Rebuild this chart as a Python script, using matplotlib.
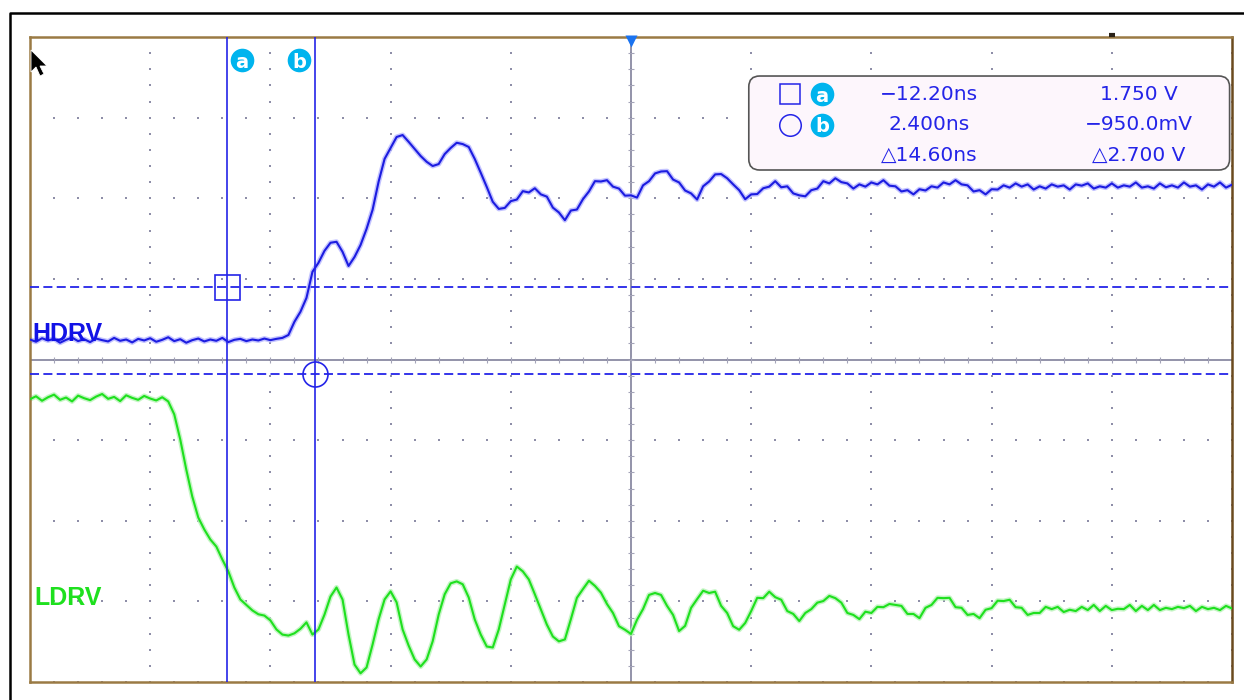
import numpy as np
import matplotlib
matplotlib.use('Agg')
import matplotlib.pyplot as plt
import matplotlib.transforms as mtransforms
from matplotlib.patches import FancyBboxPatch, Polygon
from matplotlib.lines import Line2D


# record: 1 ns per sample, starting 45 ns before the left screen edge origin
T_START = -45.0
T_STEP = 1.0

# high-side gate drive, volts
HDRV = [
    0.12, 0.05, 0.16, 0.09, 0.14, 0.02, 0.11, 0.18, 0.07, 0.13,
    0.04, 0.15, 0.10, 0.06, 0.17, 0.08, 0.12, 0.03, 0.14, 0.09,
    0.16, 0.05, 0.11, 0.19, 0.07, 0.13, 0.02, 0.10, 0.15, 0.06,
    0.12, 0.08, 0.17, 0.04, 0.11, 0.14, 0.07, 0.12, 0.09, 0.15,
    0.10, 0.14, 0.17, 0.26, 0.67, 0.98, 1.41, 2.22, 2.50, 2.87,
    3.12, 3.15, 2.84, 2.40, 2.68, 3.05, 3.55, 4.14, 5.01, 5.72,
    6.06, 6.40, 6.46, 6.25, 6.03, 5.81, 5.63, 5.50, 5.56, 5.87,
    6.06, 6.22, 6.18, 6.09, 5.72, 5.29, 4.85, 4.39, 4.17, 4.20,
    4.41, 4.46, 4.72, 4.68, 4.81, 4.62, 4.55, 4.21, 4.06, 3.82,
    4.12, 4.15, 4.47, 4.71, 5.03, 5.02, 5.06, 4.86, 4.80, 4.58,
    4.59, 4.52, 4.90, 5.03, 5.27, 5.33, 5.34, 5.08, 4.99, 4.74,
    4.65, 4.46, 4.87, 5.02, 5.24, 5.25, 5.12, 4.93, 4.75, 4.47,
    4.62, 4.63, 4.81, 4.86, 5.03, 4.84, 4.87, 4.65, 4.59, 4.56,
    4.75, 4.80, 5.03, 4.96, 5.12, 5.00, 4.96, 4.80, 4.93, 4.86,
    4.99, 4.93, 5.06, 4.89, 4.87, 4.71, 4.75, 4.62, 4.78, 4.74,
    4.87, 4.83, 4.99, 4.93, 5.06, 4.93, 4.90, 4.71, 4.75, 4.62,
    4.78, 4.77, 4.90, 4.83, 4.96, 4.86, 4.93, 4.77, 4.87, 4.80,
    4.93, 4.86, 4.90, 4.77, 4.93, 4.89, 4.96, 4.80, 4.87, 4.83,
    4.96, 4.83, 4.90, 4.86, 4.99, 4.83, 4.87, 4.80, 4.96, 4.84,
    4.90, 4.83, 4.99, 4.86, 4.90, 4.77, 4.93, 4.86, 4.99, 4.83,
    4.92,
]

# low-side gate drive, volts (own channel ground)
LDRV = [
    6.52, 6.61, 6.47, 6.58, 6.66, 6.50, 6.57, 6.45, 6.63, 6.55,
    6.49, 6.60, 6.68, 6.53, 6.59, 6.46, 6.64, 6.56, 6.50, 6.62,
    6.54, 6.48, 6.58, 6.45, 6.05, 5.27, 4.34, 3.50, 2.85, 2.48,
    2.17, 1.95, 1.55, 1.18, 0.68, 0.31, 0.14, -0.03, -0.15, -0.19,
    -0.34, -0.62, -0.78, -0.81, -0.74, -0.60, -0.40, -0.78, -0.62, -0.16,
    0.40, 0.68, 0.31, -0.78, -1.71, -1.98, -1.80, -1.09, -0.31, 0.31,
    0.56, 0.22, -0.62, -1.12, -1.55, -1.77, -1.55, -0.99, -0.16, 0.47,
    0.81, 0.87, 0.78, 0.37, -0.31, -0.78, -1.15, -1.18, -0.62, 0.16,
    0.93, 1.33, 1.18, 0.93, 0.47, 0.00, -0.47, -0.84, -0.99, -0.93,
    -0.30, 0.36, 0.63, 0.89, 0.73, 0.52, 0.17, -0.11, -0.52, -0.63,
    -0.76, -0.32, 0.01, 0.45, 0.51, 0.45, 0.11, -0.17, -0.67, -0.51,
    0.05, 0.32, 0.58, 0.51, 0.55, 0.11, -0.11, -0.52, -0.63, -0.42,
    -0.05, 0.36, 0.35, 0.55, 0.38, 0.30, -0.05, -0.14, -0.36, -0.11,
    0.01, 0.21, 0.26, 0.42, 0.35, 0.21, -0.11, -0.17, -0.30, -0.07,
    -0.11, 0.08, 0.07, 0.17, 0.14, 0.11, -0.14, -0.14, -0.27, 0.05,
    0.14, 0.36, 0.35, 0.36, 0.07, 0.05, -0.17, -0.14, -0.27, -0.01,
    0.04, 0.27, 0.26, 0.30, 0.07, 0.05, -0.17, -0.11, -0.11, 0.08,
    0.01, 0.08, -0.08, -0.01, -0.05, 0.08, -0.02, 0.14, -0.05, 0.11,
    -0.02, 0.02, 0.01, 0.14, -0.05, 0.11, -0.02, 0.14, -0.02, 0.05,
    0.01, 0.08, 0.04, 0.11, -0.05, 0.08, 0.01, 0.05, -0.02, 0.11,
    0.03,
]

LDRV_POSITION = -8.25       # V, vertical offset of the LDRV trace

CURSOR_T = [-12.2, 2.4]     # ns
CURSOR_V = [1.75, -0.95]    # V
CURSOR_NAMES = ['a', 'b']

NS_PER_DIV = 20.0
V_PER_DIV = 2.5
X_LIM = (-45.0, 155.0)
Y_LIM = (-10.5, 9.5)
TRIGGER_T = 55.0
HORIZ_MARK_T = 135.0

BLUE = '#2424e8'
TRACE_BLUE = '#1c1ce0'
GLOW_BLUE = '#b4b4ff'
GREEN = '#1ee01e'
GLOW_GREEN = '#b6f3b6'
BADGE = '#00b4ee'
DOTS = '#8e8ea8'


def four_digits(value):
    digits = 3 - int(np.floor(np.log10(abs(value))))
    return f'{value:.{max(digits, 0)}f}'.replace('-', '\u2212')


def fmt_time(value):
    return four_digits(value) + 'ns'


def fmt_volt(value):
    if abs(value) >= 1:
        return four_digits(value) + ' V'
    return four_digits(value * 1000) + 'mV'


time = T_START + T_STEP * np.arange(len(HDRV))
hdrv = np.array(HDRV)
ldrv = np.array(LDRV) + LDRV_POSITION

fig = plt.figure(figsize=(12.44, 7.0), dpi=100, facecolor='white')
ax = fig.add_axes([30 / 1244, 18 / 700, 1202 / 1244, 645 / 700])
ax.set_xlim(*X_LIM)
ax.set_ylim(*Y_LIM)
ax.set_xticks([])
ax.set_yticks([])
for side, spine in ax.spines.items():
    spine.set_color('#9a7a44')
    spine.set_linewidth(1.8)
ax.spines['right'].set_color('#6b4a1e')

# dotted graticule: minor-spaced dots along every major division line
major_x = np.arange(X_LIM[0], X_LIM[1] + 1e-6, NS_PER_DIV)
minor_x = np.arange(X_LIM[0], X_LIM[1] + 1e-6, NS_PER_DIV / 5)
major_y = np.arange(Y_LIM[0], Y_LIM[1] + 1e-6, V_PER_DIV)
minor_y = np.arange(Y_LIM[0], Y_LIM[1] + 1e-6, V_PER_DIV / 5)
gx, gy = np.meshgrid(major_x, minor_y)
ax.scatter(gx.ravel(), gy.ravel(), s=2, marker='s', color=DOTS, linewidths=0, zorder=1)
gx, gy = np.meshgrid(minor_x, major_y)
ax.scatter(gx.ravel(), gy.ravel(), s=2, marker='s', color=DOTS, linewidths=0, zorder=1)

# centre crosshair with minor ticks
cx = sum(X_LIM) / 2
cy = sum(Y_LIM) / 2
ax.axvline(cx, color='#8a8aa2', lw=1.3, zorder=1)
ax.axhline(cy, color='#8a8aa2', lw=1.3, zorder=1)
ax.plot(minor_x, np.full_like(minor_x, cy), ls='', marker='|', ms=4.5, mew=0.8,
        color='#a4a4b8', zorder=1)
ax.plot(np.full_like(minor_y, cx), minor_y, ls='', marker='_', ms=4.5, mew=0.8,
        color='#a4a4b8', zorder=1)

# traces with a faint persistence halo
ax.plot(time, hdrv, color=GLOW_BLUE, lw=3.6, alpha=0.8, zorder=2)
ax.plot(time, hdrv, color=TRACE_BLUE, lw=1.5, zorder=3)
ax.plot(time, ldrv, color=GLOW_GREEN, lw=3.6, alpha=0.8, zorder=2)
ax.plot(time, ldrv, color=GREEN, lw=1.5, zorder=3)

# cursors
for t in CURSOR_T:
    ax.axvline(t, color=BLUE, lw=1.2, zorder=4)
for v in CURSOR_V:
    ax.axhline(v, color=BLUE, lw=1.3, dashes=(5, 2.4), zorder=4)
ax.plot(CURSOR_T[0], CURSOR_V[0], marker='s', ms=18, mfc='none', mec=BLUE, mew=1.2, zorder=5)
ax.plot(CURSOR_T[1], CURSOR_V[1], marker='o', ms=18, mfc='none', mec=BLUE, mew=1.2, zorder=5)

# cursor badges along the top edge
for t, name, dx in zip(CURSOR_T, CURSOR_NAMES, [15, -16]):
    trans = mtransforms.offset_copy(ax.get_xaxis_transform(), fig=fig, x=dx, y=0, units='dots')
    ax.plot([t], [0.964], marker='o', ms=17, color=BADGE, mec='none', transform=trans, zorder=6)
    ax.text(t, 0.964, name, transform=trans, ha='center', va='center_baseline',
            color='white', fontsize=14, fontweight='bold', zorder=7)

# trigger and horizontal position marks
ax.plot([TRIGGER_T], [0.994], marker='v', ms=9, color='#1a73f0', mec='none',
        transform=ax.get_xaxis_transform(), clip_on=False, zorder=8)
ax.plot([HORIZ_MARK_T], [1.003], marker='_', ms=5, mew=3, color='#2a2218',
        transform=ax.get_xaxis_transform(), clip_on=False, zorder=8)

# channel labels
ax.text(0.002, 0.54, 'HDRV', transform=ax.transAxes, ha='left', va='center',
        color='#1212e6', fontsize=18, fontweight='bold', family='Liberation Sans', zorder=6)
ax.text(0.004, 0.131, 'LDRV', transform=ax.transAxes, ha='left', va='center',
        color='#1ee01e', fontsize=18, fontweight='bold', family='Liberation Sans', zorder=6)

# cursor readout panel
panel = FancyBboxPatch((0.598, 0.7938), 0.400, 0.1457,
                       boxstyle='round,pad=0,rounding_size=0.009',
                       mutation_aspect=1202 / 645, transform=ax.transAxes,
                       facecolor='#fdf6fc', edgecolor='#555555', lw=1.2, zorder=6)
ax.add_patch(panel)

rows = [0.9116, 0.8636, 0.8171]
ax.plot(0.6323, rows[0], marker='s', ms=14, mfc='none', mec=BLUE, mew=1.1,
        transform=ax.transAxes, zorder=7)
ax.plot(0.6323, rows[1], marker='o', ms=15.5, mfc='none', mec=BLUE, mew=1.1,
        transform=ax.transAxes, zorder=7)
for row, name in zip(rows[:2], CURSOR_NAMES):
    ax.plot(0.6589, row, marker='o', ms=17, color=BADGE, mec='none',
            transform=ax.transAxes, zorder=7)
    ax.text(0.6589, row, name, transform=ax.transAxes, ha='center',
            va='center_baseline', color='white', fontsize=14, fontweight='bold', zorder=8)

time_texts = [fmt_time(CURSOR_T[0]), fmt_time(CURSOR_T[1]),
              '\u25b3' + fmt_time(CURSOR_T[1] - CURSOR_T[0])]
volt_texts = [fmt_volt(CURSOR_V[0]), fmt_volt(CURSOR_V[1]),
              '\u25b3' + fmt_volt(abs(CURSOR_V[1] - CURSOR_V[0]))]
for row, tt, vt in zip(rows, time_texts, volt_texts):
    ax.text(0.748, row, tt, transform=ax.transAxes, ha='center', va='center',
            color=BLUE, fontsize=14.5, zorder=8)
    ax.text(0.9226, row, vt, transform=ax.transAxes, ha='center', va='center',
            color=BLUE, fontsize=14.5, zorder=8)

# mouse pointer in the top-left corner of the screen
arrow = np.array([[0, 0], [0, 22], [5, 17], [9, 26], [13, 24], [9, 16], [16, 16]])
pointer_tr = (mtransforms.Affine2D().scale(1 / 1244, -1 / 700)
              .translate(31 / 1244, 1 - 50 / 700) + fig.transFigure)
fig.add_artist(Polygon(arrow, closed=True, facecolor='black', edgecolor='white',
                       lw=0.6, transform=pointer_tr, zorder=10))

# outer frame of the screen capture
fig.add_artist(Line2D([10 / 1244, 10 / 1244, 1.0], [0.0, 1 - 13 / 700, 1 - 13 / 700],
                      color='black', lw=1.8, transform=fig.transFigure))

fig.savefig('out.png', dpi=100, facecolor='white')
